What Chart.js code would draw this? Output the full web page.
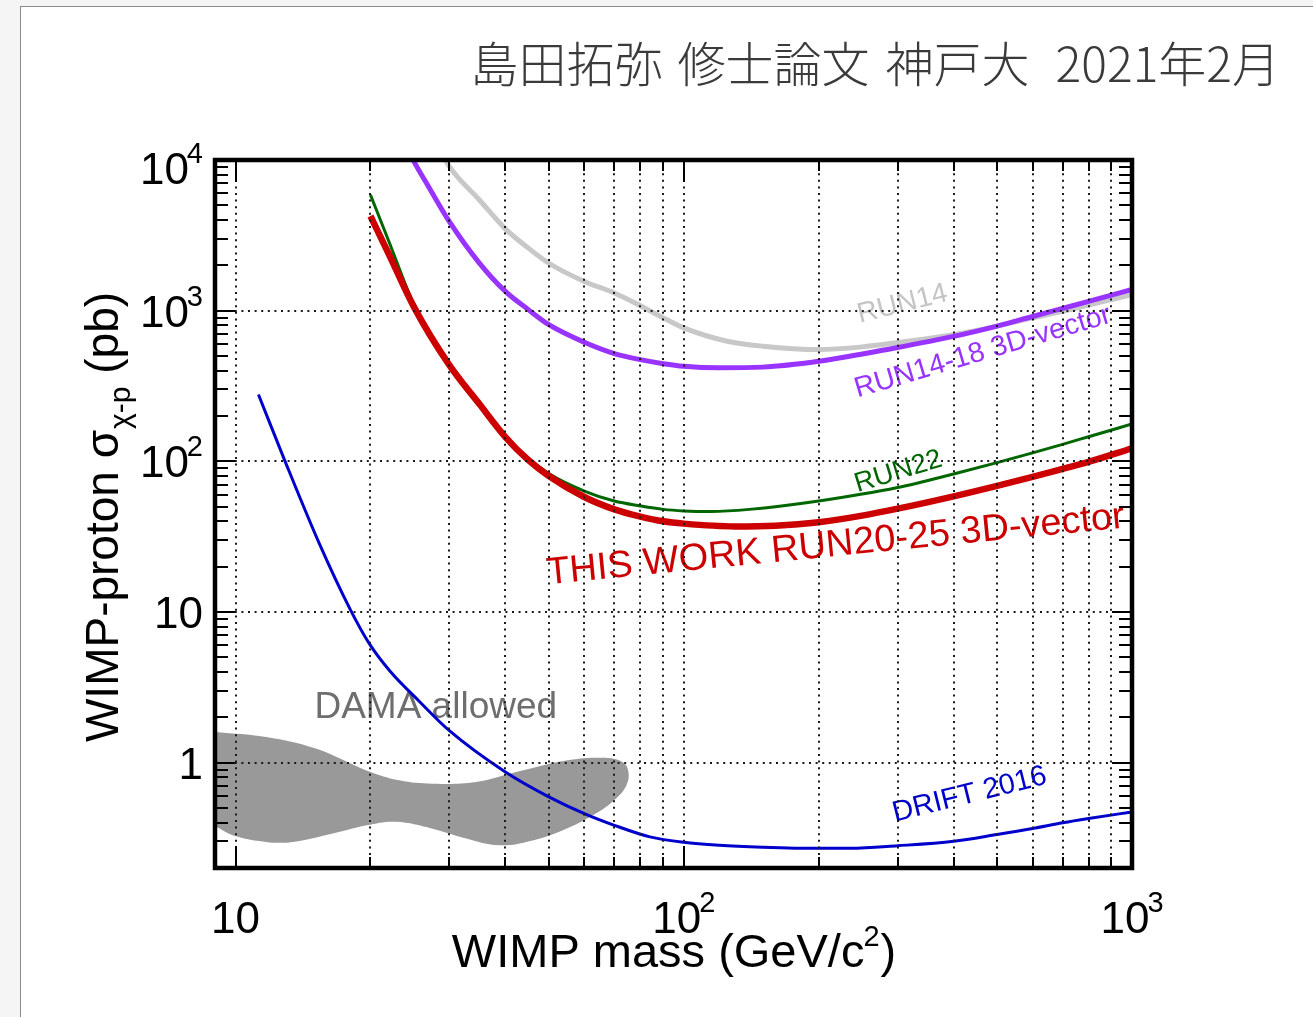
<!DOCTYPE html>
<html>
<head>
<meta charset="utf-8">
<title>WIMP-proton cross section limits</title>
<script src="https://cdn.jsdelivr.net/npm/chart.js@4.4.1/dist/chart.umd.min.js"></script>
<style>
  html, body { margin: 0; padding: 0; width: 1313px; height: 1017px; overflow: hidden; background: #f5f5f5; }
  #sheet { position: absolute; left: 20px; top: 6px; right: 0; bottom: 0; background: #fff;
           border-left: 1px solid #8a8a8a; border-top: 1px solid #8a8a8a; }
  #chart { position: absolute; left: 0; top: 0; }
</style>
</head>
<body>
<div id="sheet"></div>
<canvas id="chart" width="1313" height="1017"></canvas>
<script>
// WIMP mass in GeV/c^2, cross section in pb

// THIS WORK RUN20-25 3D-vector
const thisWorkMass  = [20, 22, 25, 30, 35, 40, 45, 50, 60, 70, 80, 90, 100, 130, 160, 200, 250, 300, 400, 500, 600, 700, 800, 1000];
const thisWorkSigma = [4250, 2360, 1060, 435, 240, 145, 102, 80, 58, 48, 43, 40, 38.6, 37, 37.4, 39.4, 43.6, 48.5, 58.6, 68.8, 78.9, 89.2, 99.2, 122];

// RUN22
const run22Mass  = [20, 22, 25, 30, 35, 40, 45, 50, 60, 70, 80, 90, 100, 115, 140, 200, 300, 400, 500, 600, 700, 800, 1000];
const run22Sigma = [5870, 2870, 1100, 445, 245, 148, 105, 83, 63.5, 54.5, 50.6, 48, 46.9, 46.5, 48, 54.6, 67, 82.4, 98, 113.8, 129.7, 145.7, 177];

// RUN14-18 3D-vector
const run1418Mass  = [24, 25, 27, 30, 35, 40, 45, 50, 60, 70, 80, 90, 100, 120, 150, 200, 300, 400, 500, 600, 700, 800, 900, 1000];
const run1418Sigma = [12500, 9800, 6600, 3900, 2070, 1342, 1016, 807, 617, 519, 473, 445, 428, 418, 422, 461, 570, 675, 790, 915, 1035, 1152, 1268, 1385];

// RUN14
const run14Mass  = [29, 30, 35, 40, 45, 50, 60, 70, 80, 90, 100, 125, 150, 200, 250, 300, 400, 500, 600, 700, 800, 900, 1000];
const run14Sigma = [10800, 9030, 5430, 3490, 2600, 2064, 1563, 1310, 1079, 896, 769, 627, 581, 552, 575, 615, 693, 790, 895, 990, 1090, 1185, 1280];

// DRIFT 2016
const driftMass  = [11.25, 12.9, 15.4, 18, 19.9, 22.1, 25.75, 30, 40, 50, 60, 70, 84, 100, 120, 150, 200, 235, 300, 400, 500, 600, 700, 800, 1000];
const driftSigma = [278, 100, 28.2, 10.5, 6.14, 4.06, 2.54, 1.63, 0.867, 0.593, 0.459, 0.384, 0.322, 0.296, 0.283, 0.275, 0.27, 0.27, 0.281, 0.301, 0.334, 0.366, 0.399, 0.426, 0.471];

// DAMA allowed region, outline (upper edge left->right, then lower edge back)
const damaMass  = [8.75, 9.06, 11.7, 15.1, 19.6, 23.2, 27.5, 34.4, 42.3, 54.7, 64.9, 71.9, 75.0, 74.5, 69.4, 62.7, 54.7, 46.0, 38.8, 32.7, 27.5, 22.8, 19.6, 16.5, 13.4, 11.7, 9.85, 9.06, 8.75];
const damaSigma = [1.62, 1.60, 1.48, 1.24, 0.889, 0.764, 0.726, 0.745, 0.867, 1.035, 1.08, 1.035, 0.912, 0.708, 0.552, 0.448, 0.365, 0.305, 0.283, 0.314, 0.365, 0.405, 0.384, 0.339, 0.298, 0.298, 0.330, 0.375, 0.39];

// axis ranges and labelled decades
const massRange  = [9, 1000];
const sigmaRange = [0.2, 10000];
const massDecades  = [10, 100, 1000];
const sigmaDecades = [1, 10, 100, 1000, 10000];

// curve names, anchored in data units
const curveNames = ['RUN14', 'RUN14-18 3D-vector', 'RUN22', 'THIS WORK RUN20-25 3D-vector', 'DRIFT 2016', 'DAMA allowed'];
const nameMass   = [247, 244, 244, 49.7, 296, 15.0];
const nameSigma  = [833, 265, 62.4, 15.3, 0.406, 1.99];

const headerWords = ['島田拓弥', '修士論文', '神戸大', '2021年2月'];

const SANS = "'Liberation Sans', Arial, Helvetica, sans-serif";

function points(xs, ys) {
  return xs.map((x, i) => ({ x: x, y: ys[i] }));
}

function curve(xs, ys, color, width) {
  return {
    data: points(xs, ys),
    showLine: true,
    borderColor: color,
    borderWidth: width,
    pointRadius: 0,
    cubicInterpolationMode: 'monotone',
    fill: false
  };
}

// multiples 1..9 of every decade inside [lo, hi]
function logSteps(lo, hi) {
  const out = [];
  for (let e = Math.floor(Math.log10(lo)); e <= Math.ceil(Math.log10(hi)); e++) {
    for (let k = 1; k <= 9; k++) {
      const v = +(k * Math.pow(10, e)).toPrecision(6);
      if (v >= lo && v <= hi) out.push(v);
    }
  }
  return out;
}

// text made of pieces with their own size and vertical shift (super/subscripts)
function drawPieces(ctx, pieces, x, y, align) {
  const widths = pieces.map(p => {
    ctx.font = p.size + 'px ' + SANS;
    return ctx.measureText(p.text).width;
  });
  let total = 0;
  pieces.forEach((p, i) => { total += widths[i] + (p.gap || 0); });
  let cx = align === 'right' ? x - total : align === 'center' ? x - total / 2 : x;
  ctx.textAlign = 'left';
  ctx.textBaseline = 'alphabetic';
  pieces.forEach((p, i) => {
    cx += p.gap || 0;
    ctx.font = p.size + 'px ' + SANS;
    ctx.fillText(p.text, cx, y - (p.rise || 0));
    cx += widths[i];
  });
}

function powerLabel(v) {
  const e = Math.round(Math.log10(v));
  if (e === 0) return [{ text: '1', size: 44 }];
  if (e === 1) return [{ text: '10', size: 44 }];
  return [{ text: '10', size: 44 }, { text: String(e), size: 29, rise: 21, gap: -2 }];
}

const nameStyle = [
  { color: '#c4c4c4', size: 28, angle: -14 },
  { color: '#9933ff', size: 28.5, angle: -16.5 },
  { color: '#006600', size: 27.5, angle: -17 },
  { color: '#cc0000', size: 38, angle: -5.6 },
  { color: '#0000cc', size: 29, angle: -14 },
  { color: '#6e6e6e', size: 37, angle: 0 }
];

const frame = {
  id: 'frame',
  beforeDatasetsDraw(chart) {
    const ctx = chart.ctx, xs = chart.scales.x, ys = chart.scales.y;
    curveNames.forEach((name, i) => {
      const st = nameStyle[i];
      ctx.save();
      ctx.translate(xs.getPixelForValue(nameMass[i]), ys.getPixelForValue(nameSigma[i]));
      ctx.rotate(st.angle * Math.PI / 180);
      ctx.fillStyle = st.color;
      ctx.font = st.size + 'px ' + SANS;
      ctx.textAlign = 'left';
      ctx.textBaseline = 'alphabetic';
      ctx.fillText(name, 0, 0);
      ctx.restore();
    });
  },
  afterDatasetsDraw(chart) {
    const ctx = chart.ctx, a = chart.chartArea, xs = chart.scales.x, ys = chart.scales.y;
    const xAll = logSteps(massRange[0], massRange[1]);
    const yAll = logSteps(sigmaRange[0], sigmaRange[1]);

    // dotted grid: every mass step, sigma decades only
    ctx.save();
    ctx.strokeStyle = '#1a1a1a';
    ctx.lineWidth = 2;
    ctx.setLineDash([2, 4.6]);
    xAll.forEach(v => {
      const px = Math.round(xs.getPixelForValue(v));
      if (px <= a.left + 2 || px >= a.right - 2) return;
      ctx.beginPath(); ctx.moveTo(px, a.top); ctx.lineTo(px, a.bottom); ctx.stroke();
    });
    sigmaDecades.forEach(v => {
      const py = Math.round(ys.getPixelForValue(v));
      if (py <= a.top + 2 || py >= a.bottom - 2) return;
      ctx.beginPath(); ctx.moveTo(a.left, py); ctx.lineTo(a.right, py); ctx.stroke();
    });
    ctx.restore();

    // inward ticks on all four sides
    ctx.save();
    ctx.strokeStyle = '#000';
    ctx.lineWidth = 2;
    ctx.beginPath();
    xAll.forEach(v => {
      const px = Math.round(xs.getPixelForValue(v));
      const len = massDecades.includes(v) ? 22 : 11;
      ctx.moveTo(px, a.bottom); ctx.lineTo(px, a.bottom - len);
      ctx.moveTo(px, a.top); ctx.lineTo(px, a.top + len);
    });
    yAll.forEach(v => {
      const py = Math.round(ys.getPixelForValue(v));
      const len = sigmaDecades.includes(v) ? 20 : 13;
      ctx.moveTo(a.left, py); ctx.lineTo(a.left + len, py);
      ctx.moveTo(a.right, py); ctx.lineTo(a.right - len, py);
    });
    ctx.stroke();

    ctx.lineWidth = 4.5;
    ctx.strokeRect(a.left, a.top, a.right - a.left, a.bottom - a.top);
    ctx.restore();
  },
  afterDraw(chart) {
    const ctx = chart.ctx, xs = chart.scales.x, ys = chart.scales.y;
    ctx.save();
    ctx.fillStyle = '#000';

    sigmaDecades.forEach(v => {
      const py = ys.getPixelForValue(v);
      const shift = v === sigmaRange[1] ? 8 : 0;
      drawPieces(ctx, powerLabel(v), 203, py + 16 + shift, 'right');
    });
    massDecades.forEach(v => {
      drawPieces(ctx, powerLabel(v), xs.getPixelForValue(v), 933, 'center');
    });

    // axis titles
    drawPieces(ctx, [
      { text: 'WIMP mass (GeV/c', size: 47 },
      { text: '2', size: 29, rise: 21, gap: -1 },
      { text: ')', size: 47, gap: 1 }
    ], 674, 967, 'center');

    ctx.save();
    ctx.translate(118, 517);
    ctx.rotate(-Math.PI / 2);
    drawPieces(ctx, [
      { text: 'WIMP-proton σ', size: 46 },
      { text: 'χ-p', size: 30, rise: -12, gap: 1 },
      { text: ' (pb)', size: 46 }
    ], 0, 0, 'center');
    ctx.restore();

    // header line, words laid out right to left; wider gap before the date
    ctx.fillStyle = '#3a3a3a';
    ctx.font = "300 48px 'Noto Sans CJK JP', sans-serif";
    ctx.textAlign = 'right';
    ctx.textBaseline = 'alphabetic';
    const gaps = [15, 16, 26];
    let hx = 1280;
    for (let i = headerWords.length - 1; i >= 0; i--) {
      ctx.fillText(headerWords[i], hx, 82);
      hx -= ctx.measureText(headerWords[i]).width + (gaps[i - 1] || 0);
    }
    ctx.restore();
  }
};

const ctx = document.getElementById('chart').getContext('2d');

const myChart = new Chart(ctx, {
  type: 'scatter',
  data: {
    // first entry ends up on top
    datasets: [
      curve(thisWorkMass, thisWorkSigma, '#cc0000', 6.5),
      curve(run22Mass, run22Sigma, '#006600', 3),
      curve(run1418Mass, run1418Sigma, '#9933ff', 5),
      curve(run14Mass, run14Sigma, '#c8c8c8', 5),
      curve(driftMass, driftSigma, '#0000cc', 3),
      {
        data: points(damaMass, damaSigma),
        showLine: true,
        borderColor: 'rgba(0,0,0,0)',
        borderWidth: 0,
        backgroundColor: '#999999',
        pointRadius: 0,
        tension: 0.4,
        fill: 'shape'
      }
    ]
  },
  options: {
    responsive: false,
    animation: false,
    events: [],
    layout: { padding: { left: 215, top: 160, right: 181, bottom: 149 } },
    plugins: {
      legend: { display: false },
      tooltip: { enabled: false }
    },
    scales: {
      x: { type: 'logarithmic', min: massRange[0], max: massRange[1], display: false },
      y: { type: 'logarithmic', min: sigmaRange[0], max: sigmaRange[1], display: false }
    }
  },
  plugins: [frame]
});
</script>
</body>
</html>
